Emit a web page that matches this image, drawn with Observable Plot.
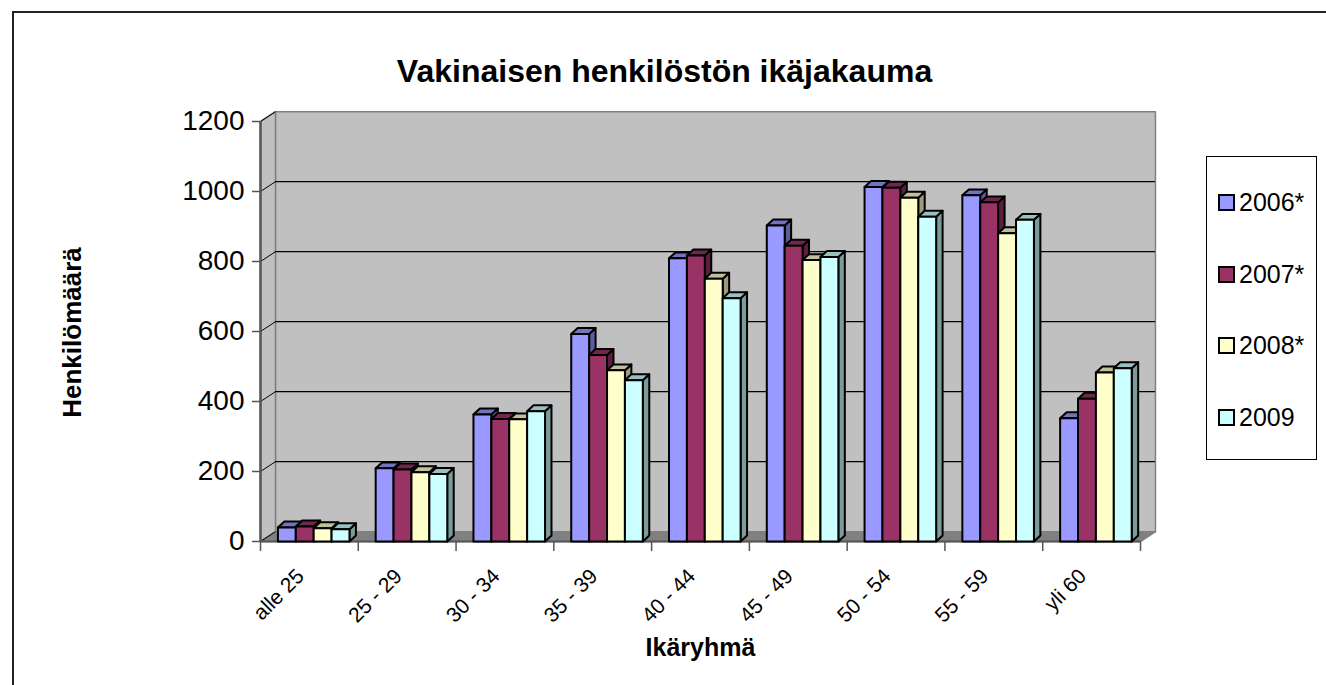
<!DOCTYPE html>
<html>
<head>
<meta charset="utf-8">
<script src="https://cdn.jsdelivr.net/npm/d3@7"></script>
<script src="https://cdn.jsdelivr.net/npm/@observablehq/plot@0.6"></script>
<style>
  html, body { margin: 0; padding: 0; background: #fff; overflow: hidden; }
  body { width: 1326px; height: 685px; position: relative; font-family: "Liberation Sans", Arial, sans-serif; }
  #borderTop { position: absolute; left: 12px; top: 11px; width: 1314px; height: 2px; background: #222; }
  #borderLeft { position: absolute; left: 12px; top: 11px; width: 2px; height: 674px; background: #222; }
  #chart { position: absolute; left: 0; top: 0; }
  #legend { position: absolute; left: 1206px; top: 156px; width: 111px; height: 304px; border: 1px solid #000; box-sizing: border-box; background: #fff;
            display: flex; flex-direction: column; justify-content: space-around; padding: 10px 0 6px 0; }
  .item { display: flex; align-items: center; font-size: 25px; color: #000; padding-left: 11px; }
  .sw { width: 13px; height: 13px; border: 2px solid #000; margin-right: 4px; }
</style>
</head>
<body>
<div id="borderTop"></div>
<div id="borderLeft"></div>
<div id="chart"></div>
<div id="legend"></div>
<script>
// ---- data ----
const categories = ["alle 25", "25 - 29", "30 - 34", "35 - 39", "40 - 44", "45 - 49", "50 - 54", "55 - 59", "yli 60"];
const seriesNames = ["2006*", "2007*", "2008*", "2009"];
const v2006 = [40, 209, 363, 593, 809, 903, 1013, 989, 352];
const v2007 = [43, 206, 350, 533, 817, 845, 1011, 969, 408];
const v2008 = [38, 198, 349, 489, 751, 804, 982, 881, 483];
const v2009 = [35, 193, 372, 461, 695, 813, 928, 919, 495];
const seriesColors = ["#9999FF", "#993366", "#FFFFCC", "#CCFFFF"];
const yTicks = [0, 200, 400, 600, 800, 1000, 1200];
const title = "Vakinaisen henkilöstön ikäjakauma";
const xTitle = "Ikäryhmä";
const yTitle = "Henkilömäärä";

const seriesValues = [v2006, v2007, v2008, v2009];

// ---- 3D geometry (in data units) ----
const DX = 0.153, DY = 28;      // back wall depth
const BDX = 0.066, BDY = 17;    // bar depth
const OFF = 0.178, BW = 0.183;  // bar offset / width within a category band

// walls
const walls = [];
const poly = (arr, id, fill, pts) => pts.forEach(([x, y]) => arr.push({id, fill, x, y}));
poly(walls, "back", "#C0C0C0", [[DX, DY], [9 + DX, DY], [9 + DX, 1200 + DY], [DX, 1200 + DY]]);
poly(walls, "left", "#C0C0C0", [[0, 0], [DX, DY], [DX, 1200 + DY], [0, 1200]]);
poly(walls, "floor", "#808080", [[0, 0], [9, 0], [9 + DX, DY], [DX, DY]]);

// bar faces in drawing order
const faces = [];
categories.forEach((c, i) => {
  seriesValues.forEach((vals, s) => {
    const v = vals[i];
    const x1 = i + OFF + s * BW, x2 = x1 + BW;
    const col = d3.color(seriesColors[s]);
    const side = col.darker(1.4).formatHex();
    const top = col.darker(0.8).formatHex();
    const key = `${i}-${s}`;
    poly(faces, key + "-side", side, [[x2, 0], [x2, v], [x2 + BDX, v + BDY], [x2 + BDX, BDY]]);
    poly(faces, key + "-top", top, [[x1, v], [x2, v], [x2 + BDX, v + BDY], [x1 + BDX, v + BDY]]);
    poly(faces, key + "-front", seriesColors[s], [[x1, 0], [x2, 0], [x2, v], [x1, v]]);
  });
});

const font = "'Liberation Sans', Arial, sans-serif";

const chart = Plot.plot({
  width: 1326,
  height: 685,
  marginLeft: 260,
  marginRight: 186,
  marginTop: 121,
  marginBottom: 144,
  x: {type: "linear", domain: [0, 9]},
  y: {type: "linear", domain: [0, 1200]},
  color: {type: "identity"},
  style: {fontFamily: font, background: "transparent", overflow: "visible", color: "#000"},
  marks: [
    Plot.line(walls, {x: "x", y: "y", z: "id", fill: "fill", stroke: "#808080", strokeWidth: 1.5, curve: "linear-closed"}),
    Plot.ruleY(yTicks.filter(v => v > 0 && v < 1200), {y: d => d + DY, x1: DX, x2: 9 + DX, stroke: "#000", strokeWidth: 1.2}),
    Plot.link(yTicks, {x1: 0, y1: d => d, x2: DX, y2: d => d + DY, stroke: "#000", strokeWidth: 1}),
    Plot.ruleX([0], {y1: 0, y2: 1200, stroke: "#555", strokeWidth: 2.5}),
    Plot.ruleY([0], {x1: 0, x2: 9, stroke: "#555", strokeWidth: 2}),
    Plot.axisY({ticks: yTicks, tickSize: 8, tickPadding: 8, fontSize: 28, label: null, tickFormat: d => String(d), stroke: "#555", strokeWidth: 1.5}),
    Plot.axisX({ticks: d3.range(0, 10), tickSize: 10, tickFormat: () => "", label: null, stroke: "#555", strokeWidth: 1.5}),
    Plot.line(faces, {x: "x", y: "y", z: "id", fill: "fill", stroke: "#000", strokeWidth: 2, strokeLinejoin: "round", curve: "linear-closed"}),
    Plot.text(categories, {x: (d, i) => i + 0.5, y: 0, text: d => d, rotate: -45, textAnchor: "end", lineAnchor: "bottom", dx: -4, dy: 36, fontSize: 21}),
    Plot.text([title], {frameAnchor: "top", text: d => d, dx: -36, dy: -40, lineAnchor: "bottom", fontSize: 32, fontWeight: "bold"}),
    Plot.text([xTitle], {frameAnchor: "bottom", text: d => d, dy: 114, lineAnchor: "bottom", fontSize: 25, fontWeight: "bold"}),
    Plot.text([yTitle], {frameAnchor: "left", text: d => d, rotate: -90, textAnchor: "middle", dx: -188, dy: 1, fontSize: 26, fontWeight: "bold"})
  ]
});
document.getElementById("chart").appendChild(chart);

// legend
const legend = document.getElementById("legend");
seriesNames.forEach((name, s) => {
  const item = document.createElement("div");
  item.className = "item";
  const sw = document.createElement("div");
  sw.className = "sw";
  sw.style.background = seriesColors[s];
  const label = document.createElement("span");
  label.textContent = name;
  item.appendChild(sw);
  item.appendChild(label);
  legend.appendChild(item);
});
</script>
</body>
</html>
